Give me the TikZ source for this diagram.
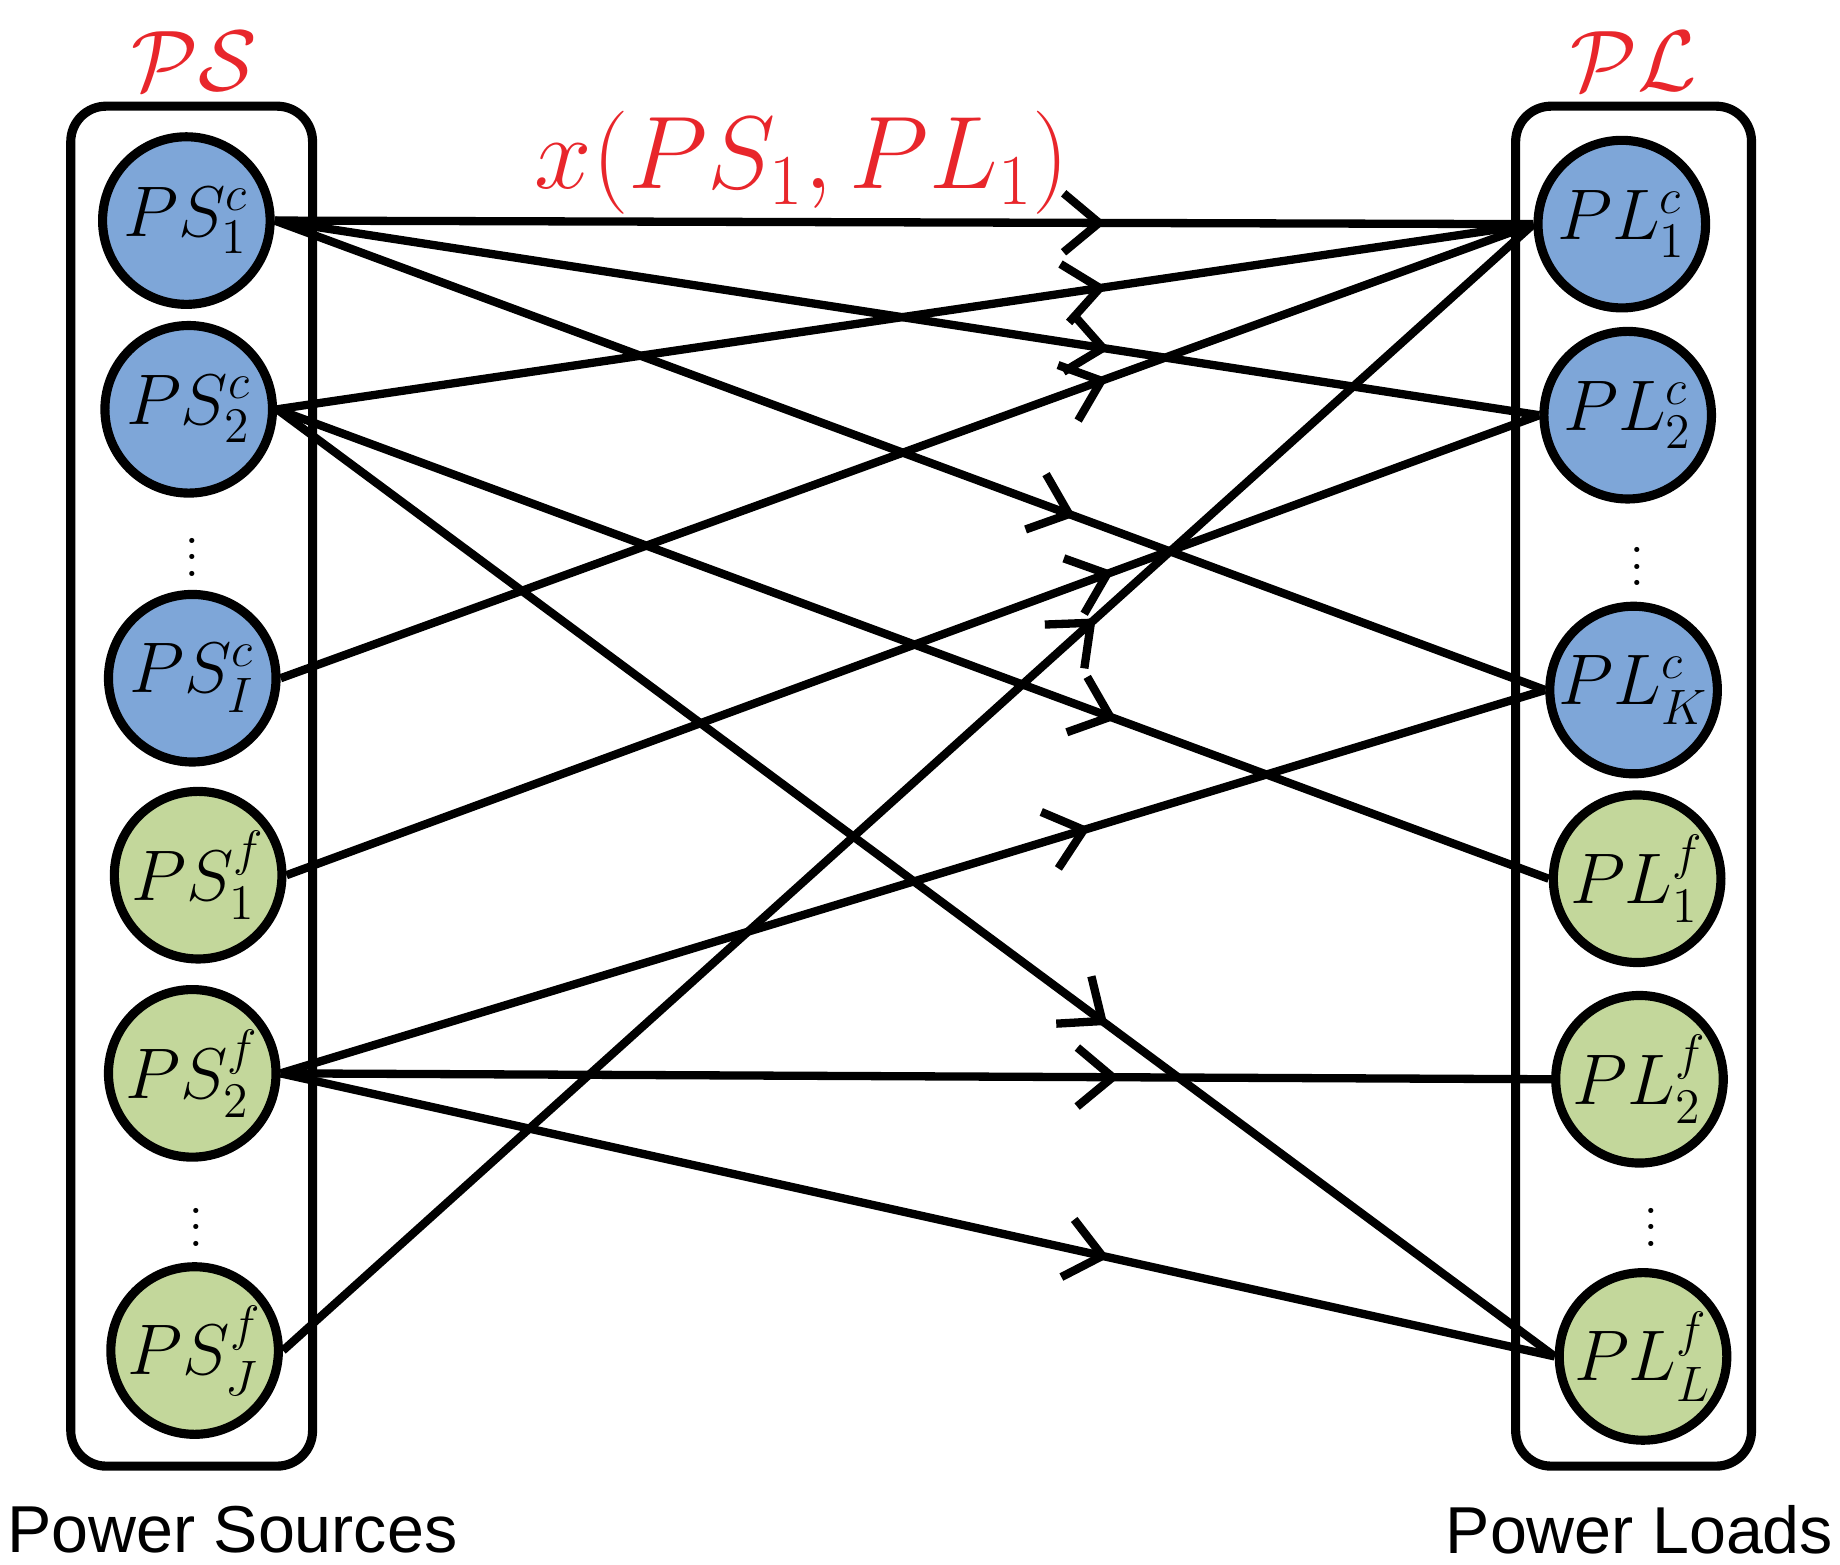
\documentclass[tikz,border=0pt]{standalone}
\usepackage{fontspec}
\usepackage{amsmath}
\newfontfamily\sansfont{Liberation Sans}
\usetikzlibrary{decorations.markings,arrows.meta}
\definecolor{srcblue}{HTML}{7EA6D8}
\definecolor{srcgreen}{HTML}{C3D79B}
\definecolor{lblred}{HTML}{E8262B}
\tikzset{%
  every unit/.style={
    circle,
    draw,
    line width=2.2pt,
    minimum size=1.42cm,
    inner sep=0pt,
    font=\fontsize{17}{17}\selectfont
  },
  unit c/.style={fill=srcblue},
  unit f/.style={fill=srcgreen},
  group/.style={draw, line width=2.2pt, rounded corners=0.3cm},
  flow/.style={
    line width=2pt,
    postaction={decorate},
    decoration={markings, mark=at position #1 with {\arrow{Straight Barb[length=0.3cm,width=0.5cm,line width=2pt]}}}
  },
  flow/.default=0.66,
}
\begin{document}
\begin{tikzpicture}[x=0.01cm, y=-0.01cm]
  \useasboundingbox (0,0) rectangle (1560,1326);

  % groups
  \draw [group] (60,90) rectangle (265,1243);
  \draw [group] (1285,90) rectangle (1485,1243);

  % sources
  \foreach \n/\t/\s/\x/\y in {c1/c/1/158/187, c2/c/2/160/347, cI/c/I/163/575,
                              f1/f/1/168/742, f2/f/2/163/910, fJ/f/J/165/1145}
  \node [every unit/.try, unit \t/.try] (ps-\n) at (\x,\y) {$PS^{\t}_{\s}$};

  % loads
  \foreach \n/\t/\s/\x/\y in {c1/c/1/1375/190, c2/c/2/1380/352, cK/c/K/1385/585,
                              f1/f/1/1388/745, f2/f/2/1390/915, fL/f/L/1393/1150}
  \node [every unit/.try, unit \t/.try] (pl-\n) at (\x,\y) {$PL^{\t}_{\s}$};

  % dots
  \foreach \x/\y in {163/462, 166/1030, 1388/470, 1400/1030}
  \node [font=\fontsize{15}{15}\selectfont] at (\x,\y) {$\vdots$};

  % labels
  \node [text=lblred, font=\fontsize{22}{22}\selectfont] (ps-label) at (165,52) {$\mathcal{PS}$};
  \node [text=lblred, font=\fontsize{22}{22}\selectfont] (pl-label) at (1385,52) {$\mathcal{PL}$};
  \node [text=lblred, font=\fontsize{25}{25}\selectfont] (x-label) at (680,138) {$x(PS_1,PL_1)$};
  \node [font=\sansfont\fontsize{16}{16}\selectfont] (src-label) at (197,1297) {Power Sources};
  \node [font=\sansfont\fontsize{16}{16}\selectfont] (load-label) at (1390,1297) {Power Loads};

  % flows
  \draw [flow] (ps-c1.east) -- (pl-c1.west);
  \draw [flow] (ps-c1.east) -- (pl-c2.west);
  \draw [flow=0.63] (ps-c1.east) -- (pl-cK.west);
  \draw [flow] (ps-c2.east) -- (pl-c1.west);
  \draw [flow] (ps-c2.east) -- (pl-f1.west);
  \draw [flow=0.65] (ps-c2.east) -- (pl-fL.west);
  \draw [flow] (ps-cI.east) -- (pl-c1.west);
  \draw [flow] (ps-f1.east) -- (pl-c2.west);
  \draw [flow=0.64] (ps-f2.east) -- (pl-cK.west);
  \draw [flow] (ps-f2.east) -- (pl-f2.west);
  \draw [flow=0.65] (ps-f2.east) -- (pl-fL.west);
  \draw [flow=0.65] (ps-fJ.east) -- (pl-c1.west);

\end{tikzpicture}
\end{document}
